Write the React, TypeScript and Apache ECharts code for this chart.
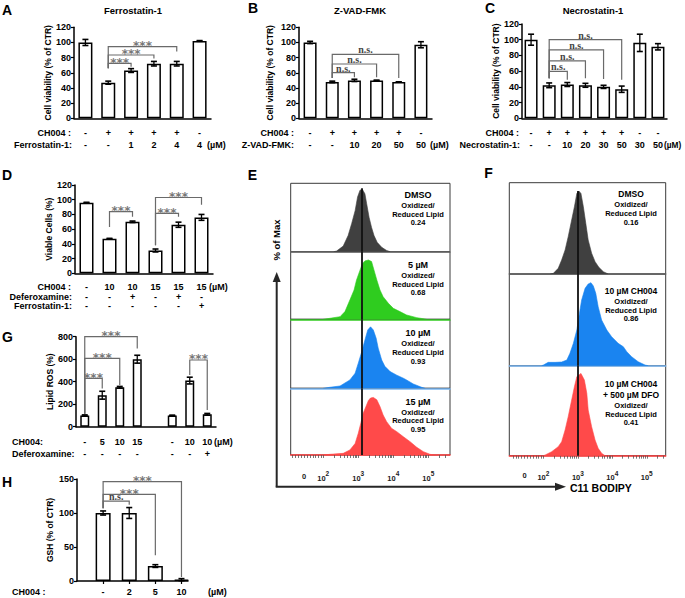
import React, { useEffect, useRef } from "react";
import * as echarts from "echarts";

const FONT = '"Liberation Sans", Arial, sans-serif';

// ---------------- Panel A : Ferrostatin-1 ----------------
const aTitle = "Ferrostatin-1";
const aRowNames = ["CH004 :", "Ferrostatin-1:"];
const aRowCH004 = ["-", "+", "+", "+", "+", "-"];
const aRowDrug = ["-", "-", "1", "2", "4", "4"];
const aValues = [100, 47, 63, 72, 72, 102];
const aErrors = [4, 2, 2.5, 3, 3, 0.5];
const aBrackets = [[1, 2, 72.5, 66, 68], [1, 3, 83.5, 66, 79], [1, 4, 94.5, 66, 88]];
const aBracketLabels = ["***", "***", "***"];

// ---------------- Panel B : Z-VAD-FMK ----------------
const bTitle = "Z-VAD-FMK";
const bRowNames = ["CH004 :", "Z-VAD-FMK:"];
const bRowCH004 = ["-", "+", "+", "+", "+", "-"];
const bRowDrug = ["-", "-", "10", "20", "50", "50"];
const bValues = [100, 48, 50, 50, 48, 97];
const bErrors = [1.5, 1, 1.5, 0.3, 0, 4];
const bBrackets = [[1, 2, 60.2, 53, 54], [1, 3, 71.6, 53, 54], [1, 4, 84.4, 53, 53]];
const bBracketLabels = ["n.s.", "n.s.", "n.s."];

// ---------------- Panel C : Necrostatin-1 ----------------
const cTitle = "Necrostatin-1";
const cRowNames = ["CH004 :", "Necrostatin-1:"];
const cRowCH004 = ["-", "+", "+", "+", "+", "+", "-", "-"];
const cRowDrug = ["-", "-", "10", "20", "30", "50", "30", "50"];
const cValues = [100, 42, 43, 42, 40, 37, 96, 91];
const cErrors = [7, 3, 2.5, 2.5, 2, 4, 11, 4];
const cBrackets = [[1, 2, 59.6, 51, 49], [1, 3, 73.2, 51, 51], [1, 4, 87.2, 51, 50], [1, 5, 100, 51, 49]];
const cBracketLabels = ["n.s.", "n.s.", "n.s.", "n.s."];

// ---------------- Panel D : Viable cells ----------------
const dRowNames = ["CH004 :", "Deferoxamine:", "Ferrostatin-1:"];
const dRowCH004 = ["-", "10", "10", "15", "15", "15"];
const dRowDFO = ["-", "-", "+", "-", "+", "-"];
const dRowFer = ["-", "-", "-", "-", "-", "+"];
const dValues = [96, 47, 70, 31, 66, 76];
const dErrors = [0.5, 0.5, 1, 2, 3.5, 4];
const dBrackets = [[1, 2, 83.7, 63, 77], [3, 4, 81.5, 38, 77], [3, 5, 103, 38, 93]];
const dBracketLabels = ["***", "***", "***"];

// ---------------- Panel G : Lipid ROS ----------------
const gRowNames = ["CH004:", "Deferoxamine:"];
const gRowCH004 = ["-", "5", "10", "15", "", "-", "10", "10"];
const gRowDFO = ["-", "-", "-", "-", "", "-", "-", "+"];
const gValues = [100, 280, 350, 600, null, 100, 410, 110];
const gErrors = [5, 35, 8, 35, null, 3, 30, 8];
const gBrackets = [[0, 1, 430, 115, 340], [0, 2, 607, 115, 370], [0, 3, 800, 115, 696], [6, 7, 593, 460, 148]];
const gBracketLabels = ["***", "***", "***", "***"];

// ---------------- Panel H : GSH ----------------
const hRowNames = ["CH004 :"];
const hRowCH004 = ["-", "2", "5", "10"];
const hValues = [100, 100, 22, 2];
const hErrors = [3, 8, 2, 1.5];
const hBrackets = [[0, 1, 117.6, 107, 112], [0, 2, 127.5, 107, 38], [0, 3, 146, 107, 6]];
const hBracketLabels = ["n.s.", "***", "***"];

// ---------------- Flow cytometry (E, F) ----------------
// x in decades of C11 BODIPY fluorescence (2 = 10^2), y in % of max
const logLabelValues = [1.45, 2, 3, 4, 5];
const logLabelBase = ["0", "10", "10", "10", "10"];
const logLabelExp = ["", "2", "3", "4", "5"];

const eDmsoX = [2.3, 2.38, 2.57, 2.71, 2.81, 2.91, 2.98, 3.05, 3.12, 3.19, 3.24, 3.31, 3.38, 3.45, 3.54, 3.67, 3.81, 3.91];
const eDmsoY = [0, 1, 9, 26, 45, 66, 88, 99, 100, 93, 77, 55, 39, 26, 15, 7, 2, 0];
const e5X = [2.0, 2.19, 2.48, 2.62, 2.76, 2.88, 2.95, 3.05, 3.12, 3.19, 3.29, 3.38, 3.45, 3.53, 3.62, 3.71, 3.86, 4.0, 4.19, 4.38, 4.67, 4.95];
const e5Y = [0, 1.6, 4.3, 12.5, 31.4, 47.7, 64, 80, 91, 95, 96.5, 94, 80, 64, 47.7, 36.8, 26, 17.9, 12.5, 7, 2.7, 0];
const e10X = [2.0, 2.19, 2.48, 2.76, 2.91, 3.0, 3.1, 3.19, 3.27, 3.35, 3.43, 3.51, 3.57, 3.67, 3.76, 3.91, 4.1, 4.29, 4.38, 4.57, 4.81, 4.91];
const e10Y = [0, 1.6, 3.7, 13.3, 24, 40, 58.5, 77, 93, 98, 93, 80, 64, 45, 35, 26.6, 21, 16, 13.3, 7, 1.6, 0];
const e15X = [2.0, 2.19, 2.57, 2.76, 2.91, 3.0, 3.07, 3.14, 3.22, 3.29, 3.35, 3.43, 3.53, 3.62, 3.71, 3.81, 3.95, 4.1, 4.29, 4.48, 4.67, 4.86, 5.05, 5.19];
const e15Y = [0, 1.1, 2.75, 8.25, 19, 35.75, 52, 69, 80, 90, 94, 95, 91, 80, 66, 55, 44, 38.5, 30, 22, 12.7, 5.5, 1.1, 0];

const fDmsoX = [2.2, 2.29, 2.43, 2.53, 2.63, 2.72, 2.82, 2.9, 2.97, 3.03, 3.09, 3.16, 3.23, 3.3, 3.4, 3.5, 3.61, 3.74, 3.88];
const fDmsoY = [0, 0.8, 6.8, 16.9, 28.9, 45, 65, 81, 97, 100, 97, 81, 61, 41, 25, 14.9, 8, 2.8, 0];
const fCh004X = [1.95, 2.0, 2.14, 2.34, 2.53, 2.68, 2.77, 2.87, 2.97, 3.03, 3.11, 3.21, 3.3, 3.38, 3.45, 3.52, 3.59, 3.69, 3.84, 3.98, 4.17, 4.32, 4.42, 4.56, 4.75, 4.95, 5.04];
const fCh004Y = [0, 0.8, 4, 4, 4.4, 6.8, 14.8, 26.8, 42.8, 58.8, 78.8, 92.8, 98, 99.6, 95.6, 86.8, 70.8, 54.8, 42.8, 34.8, 26.8, 22.8, 16.8, 10.8, 4.8, 0.8, 0];
const fDfoX = [2.0, 2.05, 2.24, 2.43, 2.53, 2.63, 2.72, 2.82, 2.9, 2.97, 3.09, 3.19, 3.26, 3.3, 3.4, 3.5, 3.59, 3.69, 3.79];
const fDfoY = [0, 0.8, 4.9, 11, 17.1, 31.4, 47.7, 68, 84.3, 96.6, 100.6, 92.4, 76.2, 55.8, 35.4, 19.1, 9, 2.9, 0];

const eRefLine = 3.11;
const fRefLine = 3.01;

const eHeaders = ["DMSO", "5 µM", "10 µM", "15 µM"];
const eRatios = ["0.24", "0.68", "0.93", "0.95"];
const fHeaders = [["DMSO"], ["10 µM CH004"], ["10 µM CH004", "+ 500 µM DFO"]];
const fRatios = ["0.16", "0.86", "0.41"];
const ratioLines = ["Oxidized/", "Reduced Lipid"];

const GRAY = "#404040";
const GREEN = "#2fcc1f";
const BLUE = "#1a84f0";
const RED = "#ff4a4a";

const LBL = 9; // tick / row label font size

function buildOption() {
  const grid: any[] = [];
  const xAxis: any[] = [];
  const yAxis: any[] = [];
  const series: any[] = [];
  const graphic: any[] = [];

  const txt = (x: number, y: number, text: string, size: number, align = "center", weight = "bold", extra: any = {}) =>
    graphic.push({
      type: "text", x, y, z: 100, silent: true, ...extra,
      style: { text, fontSize: size, fontWeight: weight, fontFamily: FONT, fill: "#000", align, verticalAlign: "middle" },
    });

  const errRender = (params: any, api: any) => {
    const x = api.value(0), y = api.value(1), e = api.value(2);
    const t = api.coord([x, y + e]);
    const b = api.coord([x, y - e]);
    const w = 3;
    const st = { stroke: "#000", lineWidth: 1.3 };
    return {
      type: "group",
      children: [
        { type: "line", shape: { x1: t[0], y1: t[1], x2: b[0], y2: b[1] }, style: st },
        { type: "line", shape: { x1: t[0] - w, y1: t[1], x2: t[0] + w, y2: t[1] }, style: { ...st, lineWidth: 1.6 } },
        { type: "line", shape: { x1: b[0] - w, y1: b[1], x2: b[0] + w, y2: b[1] }, style: { ...st, lineWidth: 1.6 } },
      ],
    };
  };

  function barPanel(p: any) {
    const gi = grid.length;
    grid.push({ left: p.left, top: p.top, width: p.width, height: p.height });
    const labels = p.values.map((_: any, i: number) => p.rows.map((r: string[]) => r[i]).join("\n"));
    const xp = (i: number) => (p.valueX ? i + 1 : i);
    const labelStyle = {
      fontFamily: FONT, fontWeight: "bold", fontSize: LBL, color: "#000",
      lineHeight: p.lineHeight, margin: p.labelMargin,
    };
    const axisLineStyle = { color: "#000", width: 1.5 };
    if (p.valueX) {
      const pos = labels.map((_: any, i: number) => i + 1);
      xAxis.push({
        type: "value", gridIndex: gi, min: p.valueX[0], max: p.valueX[1],
        axisLine: { show: true, onZero: false, lineStyle: axisLineStyle },
        axisTick: { show: true, customValues: pos, length: 3, lineStyle: { color: "#000", width: 1.2 } },
        axisLabel: { ...labelStyle, customValues: pos, formatter: (v: number) => labels[Math.round(v) - 1] ?? "" },
        splitLine: { show: false },
      });
    } else {
      xAxis.push({
        type: "category", gridIndex: gi, data: labels,
        axisLine: { onZero: false, lineStyle: axisLineStyle },
        axisTick: {
          alignWithLabel: true, length: 3, lineStyle: { color: "#000", width: 1.2 },
          interval: (i: number) => p.values[i] != null,
        },
        axisLabel: { ...labelStyle, interval: 0 },
      });
    }
    yAxis.push({
      type: "value", gridIndex: gi, min: 0, max: p.yMax, interval: p.yInterval,
      name: p.yName, nameLocation: "middle", nameGap: p.nameGap,
      nameTextStyle: { fontFamily: FONT, fontWeight: "bold", fontSize: 8.5, color: "#000" },
      axisLine: { show: true, lineStyle: axisLineStyle },
      axisTick: { show: true, length: 3, lineStyle: { color: "#000", width: 1.2 } },
      axisLabel: { fontFamily: FONT, fontWeight: "bold", fontSize: LBL, color: "#000", margin: 3 },
      splitLine: { show: false },
    });
    series.push({
      type: "bar", xAxisIndex: gi, yAxisIndex: gi, barWidth: p.barWidth, z: 2,
      data: p.values.map((v: number | null, i: number) => (p.valueX ? [i + 1, v] : v == null ? "-" : v)),
      itemStyle: { color: "#fff", borderColor: "#000", borderWidth: 1.5 },
    });
    series.push({
      type: "custom", xAxisIndex: gi, yAxisIndex: gi, z: 3,
      data: p.values
        .map((v: number | null, i: number) => [xp(i), v, p.errors[i]])
        .filter((d: any[]) => d[1] != null),
      encode: { x: 0, y: 1 },
      renderItem: errRender,
    });
    series.push({
      type: "custom", xAxisIndex: gi, yAxisIndex: gi, z: 4,
      data: p.brackets.map((b: number[]) => [xp(b[0]), b[2]]),
      encode: { x: 0, y: 1 },
      renderItem: (params: any, api: any) => {
        const b = p.brackets[params.dataIndex];
        const x1 = xp(b[0]), x2 = xp(b[1]);
        const pA = api.coord([x1, b[3]]);
        const pB = api.coord([x1, b[2]]);
        const pC = api.coord([x2, b[2]]);
        const pD = api.coord([x2, b[4]]);
        const label = p.bracketLabels[params.dataIndex];
        const ns = label === "n.s.";
        return {
          type: "group",
          children: [
            { type: "polyline", shape: { points: [pA, pB, pC, pD] }, style: { stroke: "#6a6a6a", lineWidth: 1.2, fill: null } },
            {
              type: "text", x: (pB[0] + pC[0]) / 2, y: pB[1] - (ns ? 4.5 : 0.5),
              style: {
                text: label, align: "center", verticalAlign: "middle", lineHeight: 7,
                fontFamily: ns ? '"Liberation Serif", serif' : '"DejaVu Sans", sans-serif',
                fontWeight: "bold", fontSize: ns ? 10 : 12, fill: ns ? "#444" : "#777",
              },
            },
          ],
        };
      },
    });
  }

  // tick positions on a biexponential/log display axis (decades)
  const flowTicks: number[] = [1.12, 1.2, 1.28, 1.36, 1.45, 1.54, 1.62, 1.7, 1.78, 1.86, 1.93];
  [2, 3, 4].forEach((d) => [1, 2, 3, 4, 5, 6, 7, 8, 9].forEach((k) => flowTicks.push(d + Math.log10(k))));
  [5, 5.3, 5.48].forEach((t) => flowTicks.push(t));

  function flowPanel(f: any) {
    const gi = grid.length;
    grid.push({
      left: f.left, top: f.top, width: f.width, height: f.height,
      show: true, borderColor: "#3a3a3a", borderWidth: 1, backgroundColor: "transparent",
    });
    const lblFont = { fontFamily: FONT, fontWeight: "bold", color: "#222" };
    xAxis.push({
      type: "value", gridIndex: gi, min: f.min, max: f.max,
      axisLine: { show: true, onZero: false, lineStyle: { color: f.baseColor, width: 1.5 } },
      axisTick: { show: !!f.bottom, customValues: flowTicks, length: 3, lineStyle: { color: "#555", width: 0.8 } },
      axisLabel: {
        show: !!f.bottom, customValues: logLabelValues,
        formatter: (v: number) => {
          let best = 0;
          logLabelValues.forEach((lv, i) => { if (Math.abs(lv - v) < Math.abs(logLabelValues[best] - v)) best = i; });
          return logLabelExp[best] ? `{b|${logLabelBase[best]}}{s|${logLabelExp[best]}}` : `{z|${logLabelBase[best]}}`;
        },
        margin: f.labelMargin,
        rich: {
          b: { ...lblFont, fontSize: 7.5, verticalAlign: "bottom" },
          s: { ...lblFont, fontSize: 6.5, verticalAlign: "bottom", padding: [0, 0, 5, 0] },
          z: { ...lblFont, fontSize: 7.5, padding: [2, 0, 0, 0] },
        },
      },
      splitLine: { show: false },
    });
    yAxis.push({ type: "value", gridIndex: gi, min: 0, max: 110, show: false });
    series.push({
      type: "line", xAxisIndex: gi, yAxisIndex: gi, z: 2,
      data: f.xs.map((x: number, i: number) => [x, f.ys[i]]),
      symbol: "none", showSymbol: false,
      lineStyle: { color: f.color, width: 0.6 },
      areaStyle: { color: f.color, opacity: 1 },
      markLine: {
        silent: true, symbol: ["none", "none"], label: { show: false },
        lineStyle: { color: "#111", width: 1.8, type: "solid" },
        data: [[{ coord: [f.vline, 0] }, { coord: [f.vline, f.vTop] }]],
      },
    });
  }

  // ---- bar panels ----
  barPanel({ left: 74, top: 27.3, width: 137, height: 91, rows: [aRowCH004, aRowDrug], values: aValues, errors: aErrors,
    yMax: 120, yInterval: 20, yName: "Cell viability (% of CTR)", nameGap: 17, barWidth: 14, lineHeight: 12, labelMargin: 9,
    brackets: aBrackets, bracketLabels: aBracketLabels });
  barPanel({ left: 299, top: 27.3, width: 133, height: 91, rows: [bRowCH004, bRowDrug], values: bValues, errors: bErrors,
    yMax: 120, yInterval: 20, yName: "Cell viability (% of CTR)", nameGap: 25, barWidth: 13, lineHeight: 12, labelMargin: 9,
    brackets: bBrackets, bracketLabels: bBracketLabels });
  barPanel({ left: 522, top: 24, width: 145, height: 94.3, rows: [cRowCH004, cRowDrug], values: cValues, errors: cErrors,
    yMax: 120, yInterval: 20, yName: "Cell viability (% of CTR)", nameGap: 17.5, barWidth: 13, lineHeight: 12, labelMargin: 9,
    brackets: cBrackets, bracketLabels: cBracketLabels });
  barPanel({ left: 75, top: 185, width: 138, height: 88.3, rows: [dRowCH004, dRowDFO, dRowFer], values: dValues, errors: dErrors,
    yMax: 120, yInterval: 20, yName: "Viable Cells (%)", nameGap: 20.5, barWidth: 14, lineHeight: 9.5, labelMargin: 9,
    brackets: dBrackets, bracketLabels: dBracketLabels });
  barPanel({ left: 76, top: 336.7, width: 140, height: 90, rows: [gRowCH004, gRowDFO], values: gValues, errors: gErrors,
    yMax: 800, yInterval: 200, yName: "Lipid ROS (%)", nameGap: 21.5, barWidth: 9, lineHeight: 12.3, labelMargin: 8.8,
    brackets: gBrackets, bracketLabels: gBracketLabels });
  barPanel({ left: 77, top: 479, width: 111, height: 102, rows: [hRowCH004], values: hValues, errors: hErrors, valueX: [0, 4.25],
    yMax: 150, yInterval: 50, yName: "GSH (% of CTR)", nameGap: 22.5, barWidth: 15, lineHeight: 10, labelMargin: 5.7,
    brackets: hBrackets, bracketLabels: hBracketLabels });

  // ---- flow panels E ----
  const eCommon = { left: 290.7, width: 159.3, min: 1.07, max: 5.62, vline: eRefLine, labelMargin: 15 };
  flowPanel({ ...eCommon, top: 183.3, height: 68.4, xs: eDmsoX, ys: eDmsoY, color: GRAY, baseColor: "#666", vTop: 102 });
  flowPanel({ ...eCommon, top: 251.7, height: 67.6, xs: e5X, ys: e5Y, color: GREEN, baseColor: "#33cc22", vTop: 110 });
  flowPanel({ ...eCommon, top: 319.3, height: 69, xs: e10X, ys: e10Y, color: BLUE, baseColor: "#7ab8f5", vTop: 110 });
  flowPanel({ ...eCommon, top: 388.3, height: 66.7, xs: e15X, ys: e15Y, color: RED, baseColor: "#ff3b3b", vTop: 110, bottom: true });
  // ---- flow panels F ----
  const fCommon = { left: 509.3, width: 156.4, min: 1.01, max: 5.55, vline: fRefLine, labelMargin: 14 };
  flowPanel({ ...fCommon, top: 182.7, height: 91.3, xs: fDmsoX, ys: fDmsoY, color: GRAY, baseColor: "#666", vTop: 100 });
  flowPanel({ ...fCommon, top: 274, height: 91.7, xs: fCh004X, ys: fCh004Y, color: BLUE, baseColor: "#7ab8f5", vTop: 110 });
  flowPanel({ ...fCommon, top: 365.7, height: 90, xs: fDfoX, ys: fDfoY, color: RED, baseColor: "#ff3b3b", vTop: 110, bottom: true });

  // ---- panel letters & titles ----
  [["A", 7, 10], ["B", 253, 8], ["C", 490, 8], ["D", 7, 175], ["E", 252.5, 175], ["F", 488.5, 173], ["G", 7.5, 337], ["H", 7, 482]]
    .forEach(([l, x, y]) => txt(x as number, y as number, l as string, 14));
  txt(133, 10, aTitle, 9.5);
  txt(360, 10.5, bTitle, 9.5);
  txt(593, 10, cTitle, 9.5);

  // ---- row names ----
  txt(71, 133, aRowNames[0], LBL, "right"); txt(72, 145, aRowNames[1], LBL, "right");
  txt(294, 133, bRowNames[0], LBL, "right"); txt(294, 145, bRowNames[1], LBL, "right");
  txt(519, 133.3, cRowNames[0], LBL, "right"); txt(520, 145, cRowNames[1], LBL, "right");
  txt(71, 287, dRowNames[0], LBL, "right"); txt(72, 296.5, dRowNames[1], LBL, "right"); txt(72, 306, dRowNames[2], LBL, "right");
  txt(12, 441.7, gRowNames[0], LBL, "left"); txt(12, 454, gRowNames[1], LBL, "left");
  txt(12, 591.7, hRowNames[0], LBL, "left");
  // units
  [[207, 145], [430, 145], [664, 145], [209, 287], [214, 441.7], [208, 591.7]].forEach(([x, y], i) =>
    txt(x, y, "(µM)", i === 2 ? 8.3 : LBL, "left"));

  // ---- flow annotations ----
  const eHeadY = [195, 265, 333.3, 401.7];
  eHeaders.forEach((h, i) => {
    const y0 = eHeadY[i];
    txt(418, y0, h, 9);
    txt(418, y0 + 10.5, ratioLines[0], 7.5);
    txt(418, y0 + 19, ratioLines[1], 7.5);
    txt(418, y0 + 27.8, eRatios[i], 7.5);
  });
  const fHeadY = [194.3, 291, 384];
  fHeaders.forEach((hs, i) => {
    let y = fHeadY[i];
    hs.forEach((h, j) => { if (j > 0) y += 11; txt(631, y, h, 8.5); });
    txt(631, y + 10.5, ratioLines[0], 7.5);
    txt(631, y + 19, ratioLines[1], 7.5);
    txt(631, y + 27.8, fRatios[i], 7.5);
  });

  // ---- arrows ----
  const ink = "#262626";
  graphic.push({ type: "polyline", z: 90, shape: { points: [[276.7, 486.7], [276.7, 279]] }, style: { stroke: ink, lineWidth: 2, fill: null } });
  graphic.push({ type: "polygon", z: 90, shape: { points: [[276.7, 272], [272.7, 282], [280.7, 282]] }, style: { fill: ink } });
  graphic.push({ type: "polyline", z: 90, shape: { points: [[275.7, 486.7], [557, 486.7]] }, style: { stroke: ink, lineWidth: 2, fill: null } });
  graphic.push({ type: "polygon", z: 90, shape: { points: [[566, 486.7], [555, 482.7], [555, 490.7]] }, style: { fill: ink } });
  txt(276.7, 240, "% of Max", 9.5, "center", "bold", { rotation: Math.PI / 2 });
  txt(570, 487.5, "C11 BODIPY", 10.5, "left");

  return {
    animation: false,
    backgroundColor: "#fff",
    textStyle: { fontFamily: FONT },
    grid, xAxis, yAxis, series, graphic,
  };
}

export default function App() {
  const ref = useRef<HTMLDivElement>(null);
  useEffect(() => {
    if (!ref.current) return;
    const chart = echarts.init(ref.current, undefined, { renderer: "svg" });
    chart.setOption(buildOption() as any);
    return () => chart.dispose();
  }, []);
  return (
    <div
      ref={ref}
      style={{ position: "fixed", left: 0, top: 0, width: 685, height: 598, background: "#fff" }}
    />
  );
}
